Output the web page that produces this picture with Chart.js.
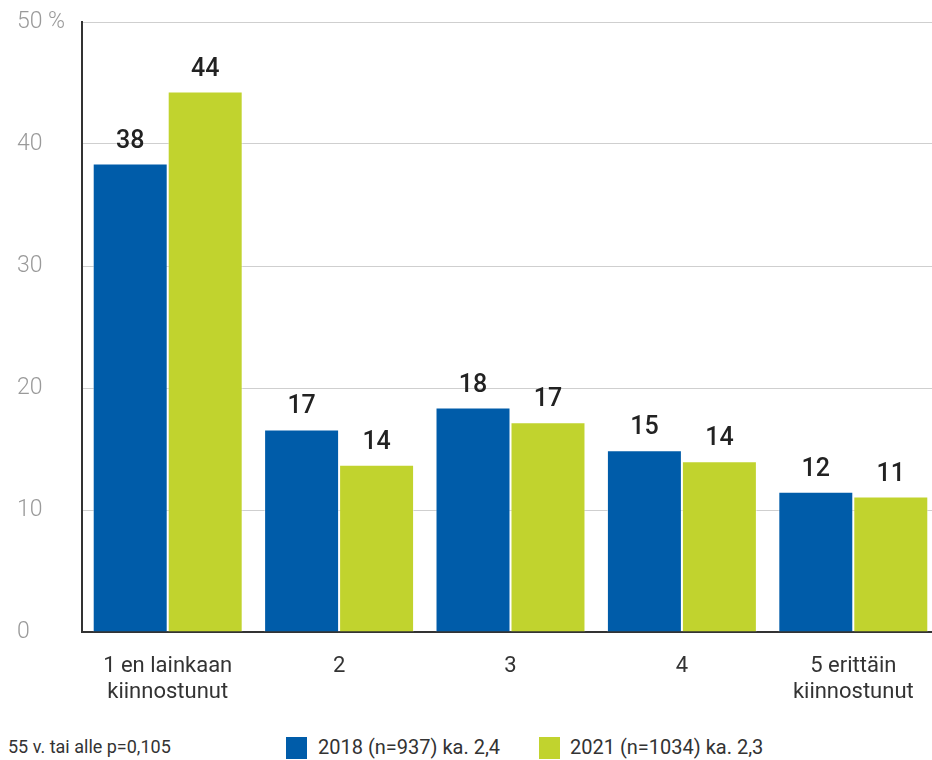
<!DOCTYPE html>
<html>
<head>
<meta charset="utf-8">
<script src="https://cdn.jsdelivr.net/npm/chart.js@4/dist/chart.umd.min.js"></script>
<style>
    body { margin: 0; width: 932px; height: 760px; overflow: hidden; background: #fff; font-family: Roboto, sans-serif; }
    #wrap { position: absolute; left: 0; top: 0; width: 940px; height: 720px; }
    .note { position: absolute; left: 8px; top: 736px; font-size: 18px; color: #333; }
    .leg { position: absolute; top: 735px; font-size: 20px; color: #333; white-space: nowrap; }
    .sw { position: absolute; top: 737px; width: 21px; height: 22px; }
</style>
</head>
<body>
<div id="wrap"><canvas id="chart"></canvas></div>
<div class="note">55 v. tai alle p=0,105</div>
<div class="sw" style="left:286px;background:#005CA9"></div>
<div class="leg" style="left:318px">2018 (n=937) ka. 2,4</div>
<div class="sw" style="left:539px;background:#C1D32E"></div>
<div class="leg" style="left:570px">2021 (n=1034) ka. 2,3</div>
<script>
// categories and values (%)
const categories = [['1 en lainkaan', 'kiinnostunut'], '2', '3', '4', ['5 erittäin', 'kiinnostunut']];
const values2018 = [38.4, 16.6, 18.4, 14.9, 11.5];
const values2021 = [44.3, 13.7, 17.2, 14.0, 11.1];
const seriesLabels = ['2018 (n=937) ka. 2,4', '2021 (n=1034) ka. 2,3'];

// value labels above bars
const barLabels = {
    id: 'barLabels',
    afterDatasetsDraw(chart) {
        const ctx = chart.ctx;
        ctx.save();
        ctx.font = '500 25px Roboto';
        ctx.fillStyle = '#222';
        ctx.textAlign = 'center';
        ctx.textBaseline = 'alphabetic';
        chart.data.datasets.forEach((ds, i) => {
            chart.getDatasetMeta(i).data.forEach((bar, j) => {
                ctx.fillText(Math.round(ds.data[j]), bar.x, bar.y - 16);
            });
        });
        ctx.restore();
    }
};

new Chart(document.getElementById('chart').getContext('2d'), {
    type: 'bar',
    data: {
        labels: categories,
        datasets: [{
            label: seriesLabels[0],
            data: values2018,
            backgroundColor: '#005CA9',
            borderColor: 'rgba(255,255,255,0.5)',
            borderWidth: 1,
        }, {
            label: seriesLabels[1],
            data: values2021,
            backgroundColor: '#C1D32E',
            borderColor: 'rgba(255,255,255,0.5)',
            borderWidth: 1,
        }]
    },
    options: {
        responsive: true,
        maintainAspectRatio: false,
        animation: false,
        categoryPercentage: 0.875,
        barPercentage: 1,
        layout: { padding: { top: 22, left: 17, right: 1, bottom: 0 } },
        plugins: {
            legend: { display: false },
            tooltip: { enabled: false }
        },
        scales: {
            x: {
                grid: { display: false },
                border: { display: true, color: '#333', width: 2 },
                ticks: {
                    color: '#333',
                    font: { family: 'Roboto', size: 22, lineHeight: 1.2 },
                    padding: 13,
                    maxRotation: 0
                },
                afterFit: s => { s.height = 88; }
            },
            y: {
                min: 0,
                max: 50,
                grid: {
                    color: (c) => c.tick && c.tick.value === 0 ? 'rgba(0,0,0,0)' : '#cfcfcf',
                    lineWidth: 1,
                    drawTicks: false
                },
                border: { display: true, color: '#333', width: 2 },
                ticks: {
                    stepSize: 10,
                    color: '#9a9a9a',
                    crossAlign: 'far',
                    font: { family: 'Roboto', size: 23, weight: 300 },
                    callback: v => v === 50 ? '50 %' : v
                },
                afterFit: s => { s.width = 65; }
            }
        }
    },
    plugins: [barLabels]
});
</script>
</body>
</html>
